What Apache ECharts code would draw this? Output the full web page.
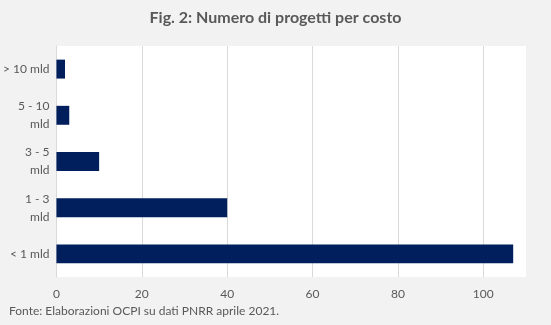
<!DOCTYPE html>
<html>
<head>
<meta charset="utf-8">
<script src="https://cdn.jsdelivr.net/npm/echarts@6/dist/echarts.min.js"></script>
<style>
  html, body { margin: 0; padding: 0; background: #f2f2f2; }
  #chart { width: 551px; height: 325px; }
</style>
</head>
<body>
<div id="chart"></div>
<script>
// Cost classes, listed bottom to top as drawn on the category axis
const categories = ['< 1 mld', '1 - 3\nmld', '3 - 5\nmld', '5 - 10\nmld', '> 10 mld'];
// Number of projects in each cost class
const projectCounts = [107, 40, 10, 3, 2];
// Value axis ticks
const xTicks = [0, 20, 40, 60, 80, 100];

const FONT = 'Lato, "Open Sans", sans-serif';
const chart = echarts.init(document.getElementById('chart'), null, { renderer: 'canvas' });

chart.setOption({
  backgroundColor: '#f2f2f2',
  animation: false,
  title: {
    text: 'Fig. 2: Numero di progetti per costo',
    left: 'center',
    top: 5,
    textStyle: { fontFamily: FONT, fontSize: 16, fontWeight: 'bold', color: '#595959' }
  },
  graphic: [{
    type: 'text',
    left: 9,
    top: 305,
    style: {
      text: 'Fonte: Elaborazioni OCPI su dati PNRR aprile 2021.',
      fontFamily: FONT,
      fontSize: 12,
      fill: '#595959'
    }
  }],
  grid: {
    left: 55,
    top: 46,
    width: 471,
    height: 231,
    show: true,
    backgroundColor: '#ffffff',
    borderWidth: 0,
    containLabel: false
  },
  xAxis: {
    type: 'value',
    min: xTicks[0],
    max: 110,
    interval: 20,
    axisLine: { show: false },
    axisTick: { show: false },
    splitLine: { show: true, showMaxLine: false, lineStyle: { color: '#d9d9d9', width: 1 } },
    axisLabel: {
      color: '#595959',
      fontFamily: FONT,
      fontSize: 12,
      margin: 11,
      showMaxLabel: false,
      formatter: v => (xTicks.indexOf(v) >= 0 ? String(v) : '')
    }
  },
  yAxis: {
    type: 'category',
    data: categories,
    axisLine: { show: true, lineStyle: { color: '#d9d9d9', width: 1 } },
    axisTick: { show: false },
    axisLabel: {
      color: '#595959',
      fontFamily: FONT,
      fontSize: 12,
      margin: 7,
      lineHeight: 18,
      align: 'right'
    }
  },
  series: [{
    type: 'bar',
    data: projectCounts,
    barCategoryGap: '59%',
    itemStyle: { color: '#001f5c' }
  }]
});
</script>
</body>
</html>
